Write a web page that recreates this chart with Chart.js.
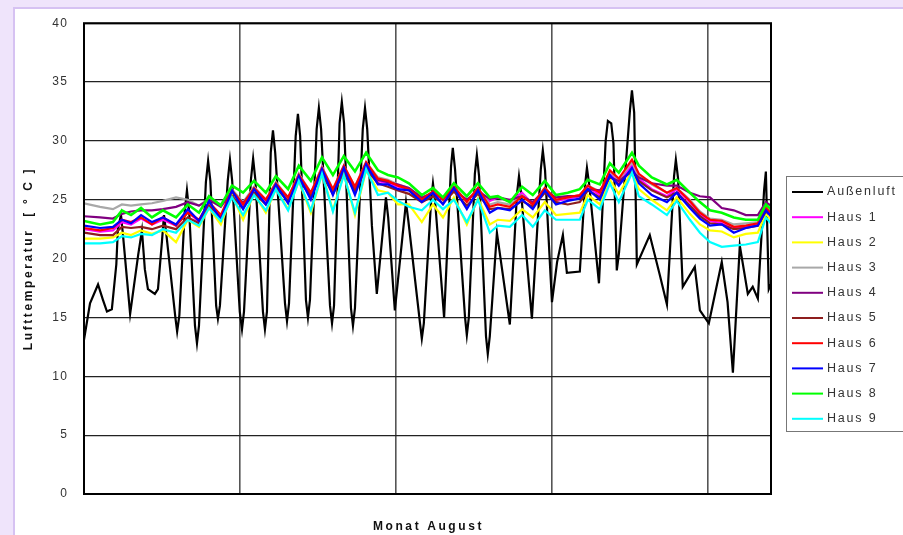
<!DOCTYPE html>
<html>
<head>
<meta charset="utf-8">
<script src="https://cdn.jsdelivr.net/npm/chart.js@4/dist/chart.umd.min.js"></script>
<style>
  html, body { margin: 0; padding: 0; background: #efe4fb; }
  canvas { display: block; }
</style>
</head>
<body>
<canvas id="chart" width="903" height="535"></canvas>
<script>
/* Lufttemperatur August: Außenluft vs. 9 Häuser. x = Tag im Monat. */

const FONT = "'Liberation Sans', Arial, sans-serif";

const seriesLabels = ["Außenluft", "Haus 1", "Haus 2", "Haus 3", "Haus 4", "Haus 5", "Haus 6", "Haus 7", "Haus 8", "Haus 9"];
const seriesColors = ["#000000", "#ff00ff", "#ffff00", "#a8a8a8", "#800080", "#8e1e1e", "#ff0000", "#0000ff", "#00ff00", "#00ffff"];
const weekTicks = [7, 14, 21, 28];
const dayMax = 30.83;

// Außenluft
const outsideDays = [0.00, 0.27, 0.63, 0.85, 1.03, 1.25, 1.45, 1.52, 1.66, 1.75, 2.07, 2.43, 2.60, 2.73, 2.87,
  3.18, 3.32, 3.50, 3.59, 3.70, 4.10, 4.18, 4.28, 4.52, 4.62, 4.72, 4.98, 5.07, 5.16, 5.47, 5.57, 5.67,
  5.93, 6.01, 6.10, 6.45, 6.55, 6.65, 6.99, 7.09, 7.18, 7.49, 7.59, 7.69, 8.03, 8.12, 8.21, 8.38, 8.48,
  8.58, 9.02, 9.11, 9.20, 9.50, 9.60, 9.70, 9.96, 10.05, 10.14, 10.44, 10.54, 10.64, 11.04, 11.13, 11.22,
  11.47, 11.57, 11.67, 11.98, 12.07, 12.16, 12.51, 12.61, 12.71, 12.92, 13.14, 13.47, 13.55, 13.65, 13.95,
  14.38, 14.45, 14.55, 15.08, 15.16, 15.25, 15.58, 15.66, 15.75, 16.16, 16.47, 16.55, 16.65, 17.10, 17.18,
  17.27, 17.54, 17.63, 17.73, 18.04, 18.12, 18.21, 18.53, 19.11, 19.43, 19.52, 19.62, 20.10, 20.50, 20.59,
  20.69, 21.00, 21.23, 21.49, 21.67, 22.25, 22.49, 22.57, 22.67, 23.11, 23.41, 23.51, 23.66, 23.76, 23.91,
  24.01, 24.50, 24.59, 24.69, 24.81, 25.39, 25.84, 26.16, 26.48, 26.56, 26.66, 26.87, 27.41, 27.64, 28.04,
  28.62, 28.88, 29.12, 29.43, 29.79, 30.01, 30.24, 30.52, 30.60, 30.73, 30.82];
const outsideTemps = [13.1, 16.2, 17.8, 16.5, 15.5, 15.7, 19.5, 22.5, 23.7, 22.0, 15.3, 20.3, 22.4, 19.1, 17.4,
  17.0, 17.4, 21.5, 23.7, 22.0, 15.0, 13.8, 15.2, 24.0, 25.8, 24.0, 14.3, 12.8, 14.3, 26.5, 28.3, 26.6,
  16.0, 14.9, 16.0, 26.6, 28.4, 26.6, 15.5, 14.0, 15.5, 26.7, 28.5, 26.7, 15.5, 14.0, 15.5, 29.0, 30.9,
  29.0, 16.2, 14.7, 16.2, 30.4, 32.3, 30.4, 16.5, 15.0, 16.5, 31.0, 32.8, 31.0, 16.0, 14.5, 16.0,
  31.5, 33.3, 31.5, 15.8, 14.3, 15.8, 31.0, 32.8, 31.0, 22.8, 17.0, 23.5, 25.2, 23.5, 15.6,
  23.5, 24.8, 23.3, 14.5, 13.2, 14.5, 25.0, 26.4, 25.0, 15.0, 27.8, 29.4, 27.6, 15.0, 13.5,
  15.0, 27.2, 28.8, 27.0, 13.4, 11.9, 13.4, 22.2, 14.4, 25.5, 27.0, 25.5, 14.9, 27.6, 29.2,
  27.5, 16.3, 19.7, 22.0, 18.8, 18.9, 26.3, 27.7, 26.3, 17.9, 30.0, 31.7, 31.5, 29.8, 19.0,
  20.5, 32.6, 34.3, 32.4, 19.5, 22.0, 18.6, 16.1, 27.0, 28.4, 26.8, 17.6, 19.3, 15.6, 14.5,
  19.7, 16.3, 10.3, 21.1, 17.0, 17.6, 16.6, 25.8, 27.4, 17.4, 17.8];

// Häuser (gemeinsame Zeitpunkte)
const indoorDays = [0.00, 0.72, 1.30, 1.70, 2.11, 2.56, 3.05, 3.54, 4.13, 4.66, 5.16, 5.61, 6.14, 6.64, 7.14,
  7.63, 8.16, 8.61, 9.16, 9.64, 10.18, 10.68, 11.17, 11.66, 12.16, 12.66, 13.19, 13.64, 14.09, 14.58, 15.16,
  15.66, 16.11, 16.60, 17.18, 17.68, 18.21, 18.57, 19.11, 19.66, 20.14, 20.68, 21.18, 21.71, 22.25, 22.61,
  23.15, 23.60, 24.00, 24.59, 24.90, 25.48, 26.16, 26.60, 27.19, 27.64, 28.09, 28.62, 29.16, 29.70, 30.24,
  30.60, 30.82];
const haus1 = [22.5, 22.3, 22.4, 23.1, 22.9, 23.4, 22.9, 23.3, 22.8, 24.0, 23.1, 24.8, 23.4, 25.8, 24.4, 26.0, 24.8, 26.4, 25.0, 27.2,
  25.4, 27.8, 25.7, 27.8, 25.8, 28.1, 26.6, 26.4, 26.1, 25.9, 25.0, 25.6, 25.0, 26.0, 24.9, 25.9, 24.9, 25.2, 24.9, 25.6,
  24.6, 25.9, 24.9, 25.1, 25.3, 26.1, 25.4, 27.3, 26.5, 27.9, 26.8, 25.9, 25.3, 25.9, 24.8, 23.8, 23.2, 23.0, 22.6, 22.7,
  22.9, 24.4, 23.8];
const haus2 = [21.7, 21.7, 21.8, 22.2, 22.0, 22.4, 22.1, 22.4, 21.4, 23.3, 22.7, 24.3, 22.9, 25.4, 23.3, 25.5, 23.9, 25.9, 24.2, 26.6,
  23.9, 27.2, 24.1, 27.2, 23.7, 27.5, 25.8, 25.6, 24.6, 24.6, 23.1, 24.6, 23.5, 25.2, 22.9, 25.1, 22.9, 23.3, 23.2, 24.2,
  23.5, 24.8, 23.7, 23.8, 23.9, 25.4, 24.6, 26.7, 25.5, 27.4, 25.9, 25.0, 24.1, 25.2, 23.8, 22.9, 22.4, 22.3, 21.8, 22.1,
  22.2, 23.8, 23.3];
const haus3 = [24.7, 24.4, 24.2, 24.6, 24.5, 24.6, 24.7, 24.9, 25.2, 25.0, 24.5, 25.1, 24.6, 25.9, 24.8, 26.1, 25.0, 26.5, 25.2, 27.2,
  25.6, 27.8, 25.9, 27.9, 26.1, 28.2, 26.9, 26.7, 26.3, 26.0, 25.1, 25.7, 25.0, 26.1, 24.9, 26.0, 24.6, 24.8, 24.6, 25.4,
  24.7, 26.0, 25.0, 25.2, 25.4, 26.2, 25.7, 27.4, 26.7, 28.2, 27.0, 26.3, 25.6, 26.0, 25.0, 24.0, 23.4, 23.3, 22.9, 23.0,
  23.1, 24.3, 24.0];
const haus4 = [23.6, 23.5, 23.4, 23.8, 24.0, 24.1, 24.1, 24.2, 24.4, 24.8, 24.5, 25.0, 24.4, 25.7, 24.7, 25.9, 25.0, 26.2, 25.2, 26.9,
  25.5, 27.4, 25.8, 27.5, 25.9, 27.8, 26.7, 26.5, 26.3, 26.0, 25.2, 25.6, 25.1, 25.8, 25.0, 25.7, 25.1, 25.2, 25.0, 25.3,
  24.8, 25.8, 25.2, 25.3, 25.3, 25.9, 25.8, 26.9, 26.6, 27.4, 26.9, 26.4, 26.2, 26.2, 25.6, 25.3, 25.2, 24.3, 24.1, 23.7,
  23.7, 24.8, 24.5];
const haus5 = [22.2, 22.0, 22.0, 22.7, 22.6, 22.7, 22.5, 22.8, 22.5, 23.5, 23.0, 24.5, 23.5, 25.3, 24.3, 25.6, 24.6, 26.0, 24.9, 26.7,
  25.3, 27.2, 25.5, 27.3, 25.7, 27.6, 26.4, 26.1, 25.8, 25.5, 24.8, 25.3, 24.7, 25.7, 24.5, 25.5, 24.2, 24.3, 24.2, 24.9,
  24.4, 25.6, 24.8, 24.6, 24.8, 25.8, 25.2, 27.0, 26.3, 27.6, 26.6, 25.8, 25.2, 25.6, 24.5, 23.6, 23.0, 22.9, 22.5, 22.6,
  22.8, 24.0, 23.7];
const haus6 = [22.6, 22.4, 22.6, 23.3, 23.1, 23.5, 22.9, 23.5, 22.8, 23.9, 23.3, 24.8, 23.7, 25.8, 24.6, 26.0, 25.0, 26.4, 25.2, 27.1,
  25.6, 27.7, 25.9, 27.9, 26.1, 28.2, 26.8, 26.6, 26.2, 25.9, 25.0, 25.7, 25.0, 26.1, 24.8, 26.0, 24.4, 24.6, 24.4, 25.3,
  24.6, 26.0, 25.0, 25.2, 25.4, 26.2, 25.6, 27.5, 26.8, 28.4, 27.2, 26.4, 25.6, 26.0, 24.9, 23.9, 23.3, 23.2, 22.7, 22.8,
  23.0, 24.3, 23.9];
const haus7 = [22.8, 22.6, 22.7, 23.3, 23.0, 23.7, 23.1, 23.5, 22.9, 24.2, 23.2, 24.9, 23.3, 25.8, 24.2, 25.9, 24.6, 26.3, 24.7, 27.0,
  25.0, 27.6, 25.4, 27.7, 25.4, 28.0, 26.3, 26.3, 25.9, 25.8, 24.8, 25.6, 24.6, 26.0, 24.2, 25.8, 23.9, 24.3, 24.1, 25.0,
  24.2, 25.8, 24.6, 24.9, 25.1, 25.9, 25.0, 27.1, 26.2, 27.7, 26.4, 25.4, 24.8, 25.6, 24.3, 23.4, 22.8, 22.9, 22.2, 22.6,
  22.8, 24.1, 23.6];
const haus8 = [23.2, 22.9, 23.1, 24.1, 23.7, 24.3, 23.5, 24.1, 23.5, 24.6, 23.9, 25.3, 24.5, 26.2, 25.6, 26.6, 25.6, 27.0, 25.9, 27.9,
  26.6, 28.6, 27.1, 28.7, 27.4, 29.0, 27.5, 27.1, 26.9, 26.4, 25.4, 26.0, 25.2, 26.4, 25.3, 26.4, 25.2, 25.3, 24.8, 26.1,
  25.4, 26.6, 25.4, 25.6, 25.9, 26.7, 26.3, 28.1, 27.3, 29.0, 27.9, 26.9, 26.3, 26.7, 25.6, 24.8, 24.1, 23.9, 23.5, 23.3,
  23.3, 24.6, 24.2];
const haus9 = [21.3, 21.3, 21.4, 21.9, 21.8, 22.1, 22.0, 22.5, 22.2, 23.3, 22.8, 24.3, 23.2, 25.2, 23.7, 25.4, 24.1, 25.9, 24.1, 26.6,
  24.1, 27.2, 24.0, 27.1, 23.9, 27.6, 25.4, 25.6, 24.9, 24.4, 24.1, 25.0, 24.2, 25.0, 23.1, 25.0, 22.2, 22.8, 22.7, 23.7,
  22.7, 24.1, 23.3, 23.3, 23.3, 25.0, 24.2, 26.4, 24.8, 27.3, 25.3, 24.6, 23.7, 24.9, 23.3, 22.2, 21.4, 21.0, 21.1, 21.2,
  21.4, 23.5, 23.0];

const houseSeries = [haus1, haus2, haus3, haus4, haus5, haus6, haus7, haus8, haus9];

function toPoints(xs, ys) { return xs.map((x, i) => ({ x, y: ys[i] })); }

const datasets = [toPoints(outsideDays, outsideTemps)].concat(houseSeries.map((h) => toPoints(indoorDays, h)))
  .map((pts, i) => ({
    label: seriesLabels[i],
    data: pts,
    borderColor: seriesColors[i],
    backgroundColor: seriesColors[i],
    borderWidth: i === 8 ? 2.6 : 2.2,
    pointRadius: 0,
    tension: 0,
    order: 10 - i, // Excel-Reihenfolge: spätere Reihe liegt oben
  }));

/* ---- Hintergrund, Rahmen, Achsentitel, Legende ---- */
const decor = {
  id: "decor",
  beforeDraw(chart) {
    const c = chart.ctx;
    c.save();
    c.fillStyle = "#efe4fb";
    c.fillRect(0, 0, chart.width, chart.height);
    c.fillStyle = "#ffffff";
    c.fillRect(14, 8, chart.width, chart.height);
    c.strokeStyle = "#d6c2f2";
    c.lineWidth = 2;
    c.strokeRect(14, 8, chart.width + 10, chart.height + 10);
    c.restore();
    c.letterSpacing = "1.2px";
  },
  afterDatasetsDraw(chart) {
    const c = chart.ctx, a = chart.chartArea;
    c.save();
    c.strokeStyle = "#000";
    c.lineWidth = 2;
    c.strokeRect(a.left, a.top, a.right - a.left, a.bottom - a.top);
    c.restore();
  },
  afterDraw(chart) {
    const c = chart.ctx, a = chart.chartArea;
    c.save();
    c.fillStyle = "#111";
    c.font = "bold 12px " + FONT;
    c.letterSpacing = "2.6px";
    c.textAlign = "center";
    c.textBaseline = "middle";
    c.fillText("Monat August", (a.left + a.right) / 2 + 1, 527);
    c.translate(29, (a.top + a.bottom) / 2);
    c.rotate(-Math.PI / 2);
    c.fillText("Lufttemperatur  [ ° C ]", 0, 0);
    c.restore();

    // Legende
    c.save();
    c.strokeStyle = "#777";
    c.lineWidth = 1;
    c.strokeRect(786.5, 176.5, 140, 255);
    c.font = "12.5px " + FONT;
    c.letterSpacing = "1.8px";
    c.textBaseline = "middle";
    c.textAlign = "left";
    chart.data.datasets.forEach((ds, i) => {
      const y = 192 + i * 25.2;
      c.strokeStyle = ds.borderColor;
      c.lineWidth = 2;
      c.beginPath();
      c.moveTo(792, y);
      c.lineTo(823, y);
      c.stroke();
      c.fillStyle = "#333";
      c.fillText(ds.label, 827, y);
    });
    c.restore();
  },
};

new Chart(document.getElementById("chart"), {
  type: "line",
  data: { datasets },
  options: {
    responsive: false,
    animation: false,
    devicePixelRatio: 1,
    layout: { padding: { left: 0, top: 19, right: 132, bottom: 0 } },
    plugins: { legend: { display: false }, tooltip: { enabled: false } },
    scales: {
      x: {
        type: "linear", min: 0, max: dayMax,
        afterBuildTicks: (s) => { s.ticks = weekTicks.map((v) => ({ value: v })); },
        afterFit: (s) => { s.height = 41; },
        ticks: { display: false },
        grid: { color: "#555", lineWidth: 1.6, drawTicks: false },
        border: { display: false },
      },
      y: {
        min: 0, max: 40,
        afterFit: (s) => { s.width = 84; },
        ticks: { stepSize: 5, color: "#333", padding: 16, font: { family: FONT, size: 12 } },
        grid: { color: "#222", lineWidth: 1.3, drawTicks: false },
        border: { display: false },
      },
    },
  },
  plugins: [decor],
});
</script>
</body>
</html>
